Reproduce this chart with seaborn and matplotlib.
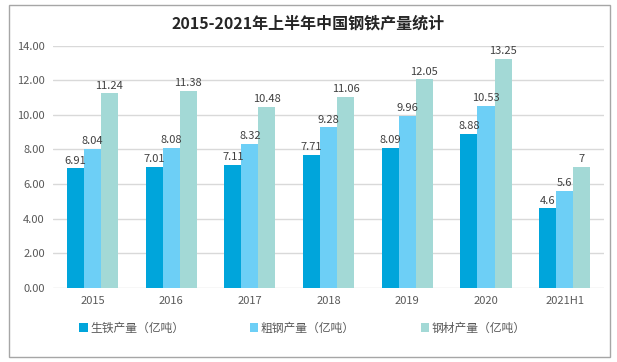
import pandas as pd
import matplotlib.pyplot as plt
import seaborn as sns
from matplotlib.patches import Patch, Rectangle

years = ['2015', '2016', '2017', '2018', '2019', '2020', '2021H1']
pig_iron = [6.91, 7.01, 7.11, 7.71, 8.09, 8.88, 4.6]
crude_steel = [8.04, 8.08, 8.32, 9.28, 9.96, 10.53, 5.6]
steel_products = [11.24, 11.38, 10.48, 11.06, 12.05, 13.25, 7]
series_names = ['生铁产量（亿吨）', '粗钢产量（亿吨）', '钢材产量（亿吨）']
colors = ['#00A5DB', '#6DCFF6', '#A3D9D6']

df = pd.DataFrame({'年份': years * 3,
                   '产量': pig_iron + crude_steel + steel_products,
                   '类别': [n for n in series_names for _ in years]})

sns.set_style('white')
plt.rcParams['font.family'] = ['Noto Sans CJK SC', 'DejaVu Sans']

fig = plt.figure(figsize=(6.17, 3.62), dpi=100)
ax = fig.add_axes([0.086, 0.2044, 0.893, 0.6696])

sns.barplot(data=df, x='年份', y='产量', hue='类别', hue_order=series_names,
            palette=colors, width=0.65, gap=0, saturation=1, linewidth=0,
            ax=ax, legend=False)

# 数据标签
for cont, vals in zip(ax.containers, [pig_iron, crude_steel, steel_products]):
    ax.bar_label(cont, labels=[f'{v:g}' for v in vals], padding=2,
                 fontsize=8, color='#404040')

ax.set_ylim(0, 14)
ax.set_yticks(range(0, 15, 2))
ax.set_yticklabels([f'{v:.2f}' for v in range(0, 15, 2)])
ax.yaxis.grid(True, color='#D9D9D9', linewidth=1)
ax.set_axisbelow(True)
for s in ax.spines.values():
    s.set_visible(False)
ax.tick_params(axis='both', length=0, labelsize=8, colors='#595959', pad=6)
ax.set_xlabel('')
ax.set_ylabel('')

fig.text(0.5, 0.935, '2015-2021年上半年中国钢铁产量统计', ha='center', va='center',
         fontsize=11.5, fontweight='bold', color='#262626')

handles = [Patch(facecolor=c, edgecolor='none') for c in colors]
fig.legend(handles, series_names, loc='center', bbox_to_anchor=(0.49, 1 - 328 / 362),
           ncol=3, frameon=False, fontsize=8.5, labelcolor='#595959',
           handlelength=0.7, handleheight=0.7, handletextpad=0.2, columnspacing=5.6)

fig.patches.append(Rectangle((0.014, 0.015), 0.974, 0.972, transform=fig.transFigure,
                             fill=False, edgecolor='#A6A6A6', linewidth=1))

fig.savefig('out.png', dpi=100)
